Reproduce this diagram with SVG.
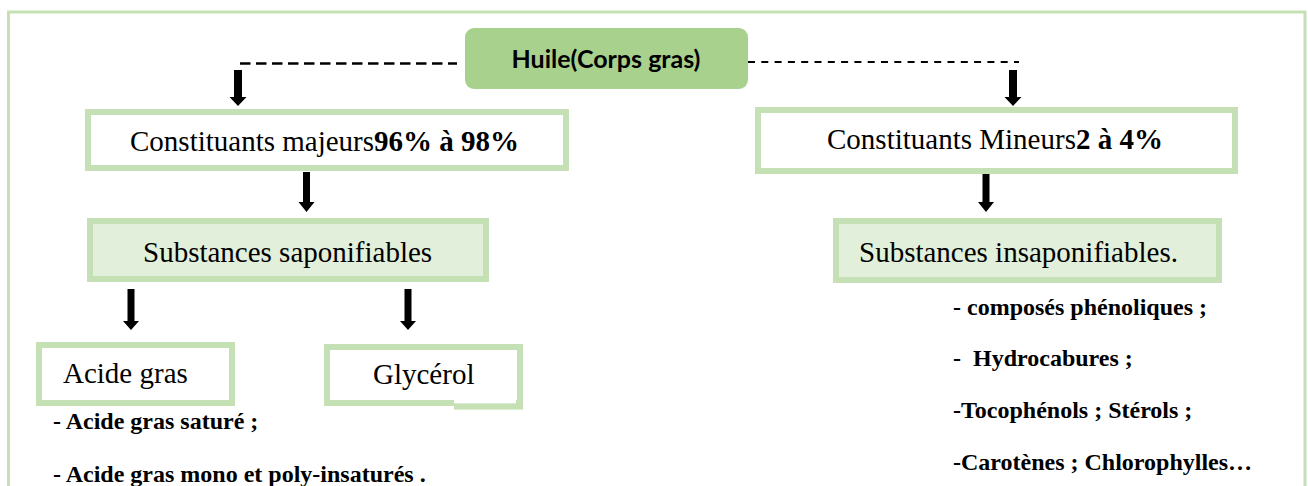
<svg xmlns="http://www.w3.org/2000/svg" width="1308" height="486" viewBox="0 0 1308 486">
<style>
.frame{fill:none;stroke:#c5e0b4;stroke-width:3}
.box{fill:#ffffff;stroke:#c5e0b4;stroke-width:6}
.sub{fill:#e2efda;stroke:#c5e0b4;stroke-width:6}
.main{fill:#a9d18e}
.t{font-family:"Liberation Serif","Times New Roman",serif;font-size:29px;fill:#000}
.b{font-weight:bold}
.li{font-family:"Liberation Serif","Times New Roman",serif;font-size:24px;font-weight:bold;fill:#000;white-space:pre}
.ht{font-family:Lato,"Open Sans",sans-serif;font-size:25px;font-weight:bold;fill:#000}
.arr{fill:#000}
.dl{fill:none;stroke:#000;stroke-width:2.7;stroke-dasharray:10.5 5.5}
.dr{fill:none;stroke:#000;stroke-width:1.8;stroke-dasharray:7 6.3}
</style>
<rect width="1308" height="486" fill="#ffffff"/>
<rect class="frame" x="8.5" y="12" width="1296.5" height="500"/>
<g id="connectors">
<path class="dl" d="M240,63.5 H457"/>
<path class="dr" d="M748,62 H1019"/>
<path class="arr" d="M234,70 H242 V97 H246.5 L238,106 L229.5,97 H234 Z"/>
<path class="arr" d="M1009,70 H1017 V97 H1021.5 L1013,106 L1004.5,97 H1009 Z"/>
<path class="arr" d="M303,172 H310 V202 H314.5 L306.5,212 L298.5,202 H303 Z"/>
<path class="arr" d="M982.5,171 H989.5 V202 H994 L986,212 L978,202 H982.5 Z"/>
<path class="arr" d="M127.5,289 H134.5 V321 H139 L131,330 L123,321 H127.5 Z"/>
<path class="arr" d="M404.5,289 H411.5 V321 H416 L408,330 L400,321 H404.5 Z"/>
</g>
<g id="huile">
<rect class="main" x="465" y="28" width="283" height="61" rx="9"/>
<text class="ht" x="606" y="68" text-anchor="middle">Huile(Corps gras)</text>
</g>
<g id="majeurs">
<rect class="box" x="88" y="112" width="478" height="56"/>
<text class="t" x="130" y="151">Constituants majeurs<tspan class="b">96% à 98%</tspan></text>
</g>
<g id="mineurs">
<rect class="box" x="758" y="110" width="477" height="61"/>
<text class="t" x="827" y="149">Constituants Mineurs<tspan class="b">2 à 4%</tspan></text>
</g>
<g id="saponifiables">
<rect class="sub" x="90" y="221" width="396" height="58"/>
<text class="t" x="143" y="262">Substances saponifiables</text>
</g>
<g id="insaponifiables">
<rect class="sub" x="836" y="221" width="383" height="59"/>
<text class="t" x="859" y="262">Substances insaponifiables.</text>
</g>
<g id="acide-gras">
<rect class="box" x="39" y="345" width="193" height="58"/>
<text class="t" x="63" y="383">Acide gras</text>
</g>
<g id="glycerol">
<rect class="box" x="327" y="347" width="193" height="56"/>
<rect x="454" y="400" width="62" height="3.6" fill="#ffffff"/>
<rect x="454" y="403.6" width="69" height="6" fill="#c5e0b4"/>
<text class="t" x="373" y="384">Glycérol</text>
</g>
<g id="liste-sap">
<text class="li" x="53" y="429">- Acide gras saturé ;</text>
<text class="li" x="53" y="482">- Acide gras mono et poly-insaturés .</text>
</g>
<g id="liste-insap">
<text class="li" x="953" y="315">- composés phénoliques ;</text>
<text class="li" x="953" y="366">-  Hydrocabures ;</text>
<text class="li" x="953" y="418">-Tocophénols ; Stérols ;</text>
<text class="li" x="953" y="470">-Carotènes ; Chlorophylles…</text>
</g>
</svg>
